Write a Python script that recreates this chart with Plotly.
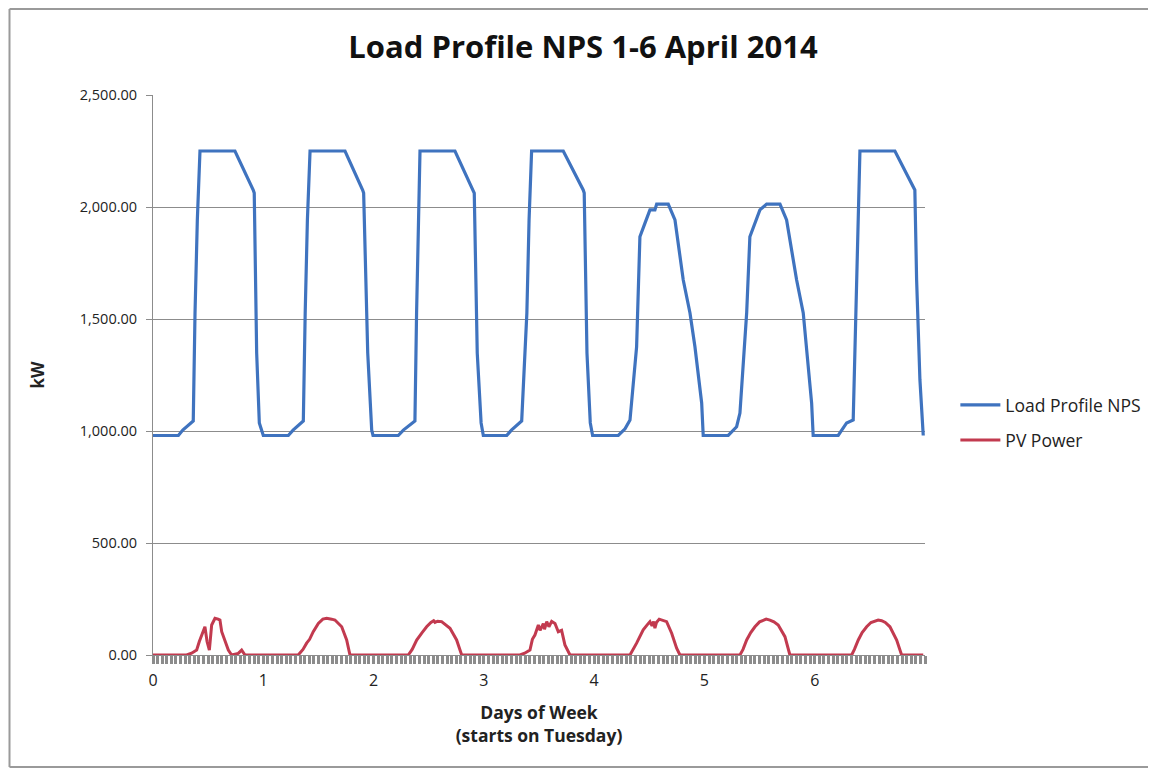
import plotly.graph_objects as go

# ---- data (days since start, kW) ----
load_days = [0.00, 0.23, 0.27, 0.335, 0.365, 0.381, 0.402, 0.426, 0.743, 0.909, 0.918, 0.940, 0.964, 1.00,
             1.227, 1.27, 1.335, 1.363, 1.38, 1.40, 1.424, 1.741, 1.901, 1.91, 1.947, 1.983, 1.995,
             2.224, 2.27, 2.34, 2.375, 2.39, 2.405, 2.421, 2.738, 2.904, 2.913, 2.94, 2.975, 2.995,
             3.207, 3.25, 3.31, 3.343, 3.39, 3.41, 3.433, 3.72, 3.901, 3.91, 3.935, 3.965, 3.986,
             4.219, 4.28, 4.325, 4.385, 4.415, 4.461, 4.506, 4.551, 4.567, 4.672, 4.733, 4.808, 4.869, 4.914, 4.975, 4.989,
             5.216, 5.292, 5.322, 5.383, 5.412, 5.503, 5.564, 5.685, 5.745, 5.836, 5.896, 5.972, 5.986,
             6.213, 6.289, 6.349, 6.41, 6.727, 6.908, 6.924, 6.954, 6.984]
load_kw = [980, 980, 1004, 1030, 1045, 1527, 1942, 2250, 2250, 2076, 2062, 1348, 1036, 980,
           980, 1004, 1030, 1045, 1527, 1942, 2250, 2250, 2076, 2062, 1348, 1004, 980,
           980, 1004, 1030, 1045, 1527, 1942, 2250, 2250, 2076, 2062, 1348, 1036, 980,
           980, 1004, 1030, 1045, 1527, 1942, 2250, 2250, 2076, 2062, 1348, 1036, 980,
           980, 1010, 1049, 1376, 1867, 1928, 1987, 1987, 2013, 2013, 1942, 1674, 1527, 1376, 1125, 980,
           980, 1019, 1080, 1527, 1867, 1987, 2013, 2013, 1942, 1674, 1527, 1125, 980,
           980, 1036, 1049, 2250, 2250, 2076, 1674, 1228, 980]

pv_days = [0.00, 0.305, 0.35, 0.396, 0.42, 0.441, 0.471, 0.49, 0.511, 0.532, 0.562, 0.59, 0.607, 0.623, 0.653, 0.683, 0.713, 0.773, 0.804, 0.834,
           1.317, 1.36, 1.393, 1.42, 1.453, 1.499, 1.54, 1.575, 1.62, 1.65, 1.711, 1.756, 1.786,
           2.315, 2.35, 2.391, 2.44, 2.481, 2.52, 2.545, 2.557, 2.58, 2.617, 2.64, 2.693, 2.753, 2.799,
           3.327, 3.37, 3.418, 3.44, 3.463, 3.494, 3.51, 3.539, 3.55, 3.57, 3.59, 3.615, 3.645, 3.675, 3.705, 3.735, 3.781,
           4.325, 4.385, 4.445, 4.49, 4.506, 4.525, 4.54, 4.551, 4.565, 4.59, 4.612, 4.657, 4.703, 4.748, 4.778,
           5.322, 5.35, 5.383, 5.42, 5.458, 5.50, 5.533, 5.56, 5.594, 5.63, 5.669, 5.73, 5.775,
           6.335, 6.36, 6.395, 6.43, 6.471, 6.51, 6.546, 6.575, 6.607, 6.64, 6.682, 6.743, 6.788, 6.984]
pv_kw = [0, 0, 8, 22, 60, 89, 126, 60, 22, 134, 164, 160, 156, 104, 60, 22, 0, 7, 22, 0,
         0, 25, 53, 70, 104, 141, 160, 164, 160, 156, 126, 67, 0,
         0, 25, 67, 100, 126, 145, 153, 146, 151, 149, 140, 119, 67, 0,
         0, 8, 22, 70, 89, 134, 110, 140, 115, 149, 126, 150, 141, 104, 110, 45, 0,
         0, 53, 112, 140, 149, 130, 150, 120, 145, 160, 156, 149, 97, 30, 0,
         0, 25, 67, 100, 126, 148, 156, 160, 156, 148, 134, 82, 0,
         0, 25, 67, 100, 126, 145, 153, 156, 153, 145, 126, 67, 0, 0]

x_ticks = [0, 1, 2, 3, 4, 5, 6]
y_ticks = [0, 500, 1000, 1500, 2000, 2500]

FONT = "'Open Sans', Lato, sans-serif"
BLUE = "#3f73bf"
RED = "#c23a4f"
FRAME = "#9a9a9a"

# page body has an 8px margin; plot area wanted at screen x 153..925, y 95..655
ML, MT = 145, 87
PW, PH = 772, 560
W, H = 1156, 770

def px(screen_x):
    return (screen_x - 8 - ML) / PW

def py(screen_y):
    return ((MT + PH) - (screen_y - 8)) / PH

fig = go.Figure()
fig.add_trace(go.Scatter(x=load_days, y=load_kw, mode="lines", name="Load Profile NPS",
                         line=dict(color=BLUE, width=3.2), legend="legend"))
fig.add_trace(go.Scatter(x=pv_days, y=pv_kw, mode="lines", name="PV Power",
                         line=dict(color=RED, width=3), legend="legend2"))

leg_common = dict(x=px(960) - 0.006, xanchor="left", yanchor="middle",
                  bgcolor="rgba(0,0,0,0)", font=dict(size=17.5, color="#222", family=FONT), itemwidth=40)

frame = dict(type="line", xref="paper", yref="paper", line=dict(color=FRAME, width=2), layer="below")

fig.update_layout(
    width=W, height=H,
    paper_bgcolor="white", plot_bgcolor="white",
    margin=dict(l=ML, r=W - ML - PW, t=MT, b=H - MT - PH),
    font=dict(family=FONT, size=16, color="#222"),
    title=dict(text="<b>Load Profile NPS 1-6 April 2014</b>", x=(583 - 8) / W, xref="container",
               xanchor="center", y=1 - (47 - 8) / H, yanchor="middle",
               font=dict(size=31, color="#111", family=FONT)),
    showlegend=True,
    legend=dict(y=py(405), **leg_common),
    legend2=dict(y=py(440), **leg_common),
    xaxis=dict(range=[0, 7], tickvals=x_ticks, showgrid=False, zeroline=False,
               showline=True, linecolor="#8c8c8c", linewidth=1,
               ticks="outside", ticklen=8, tickwidth=3, tickcolor="#8c8c8c", ticklabelstandoff=3,
               minor=dict(dtick=1 / 24, ticks="outside", ticklen=8, tickwidth=3, tickcolor="#8c8c8c"),
               title=dict(text="<b>Days of Week<br>(starts on Tuesday)</b>", font=dict(size=17.5), standoff=16),
               tickfont=dict(size=16)),
    yaxis=dict(range=[0, 2500], tickvals=y_ticks, tickformat=",.2f", showgrid=True,
               gridcolor="#8c8c8c", gridwidth=1, zeroline=False,
               showline=True, linecolor="#8c8c8c", linewidth=1,
               ticks="outside", ticklen=6, tickcolor="#8c8c8c", ticklabelstandoff=6,
               title=dict(text="<b>kW</b>", font=dict(size=17), standoff=30),
               tickfont=dict(size=14.5)),
    shapes=[
        dict(x0=px(9.5), x1=px(9.5), y0=py(767), y1=py(9), **frame),
        dict(x0=px(9.5), x1=px(1170), y0=py(9), y1=py(9), **frame),
        dict(x0=px(9.5), x1=px(1170), y0=py(767), y1=py(767), **frame),
    ],
)

fig.write_html("out.html")
